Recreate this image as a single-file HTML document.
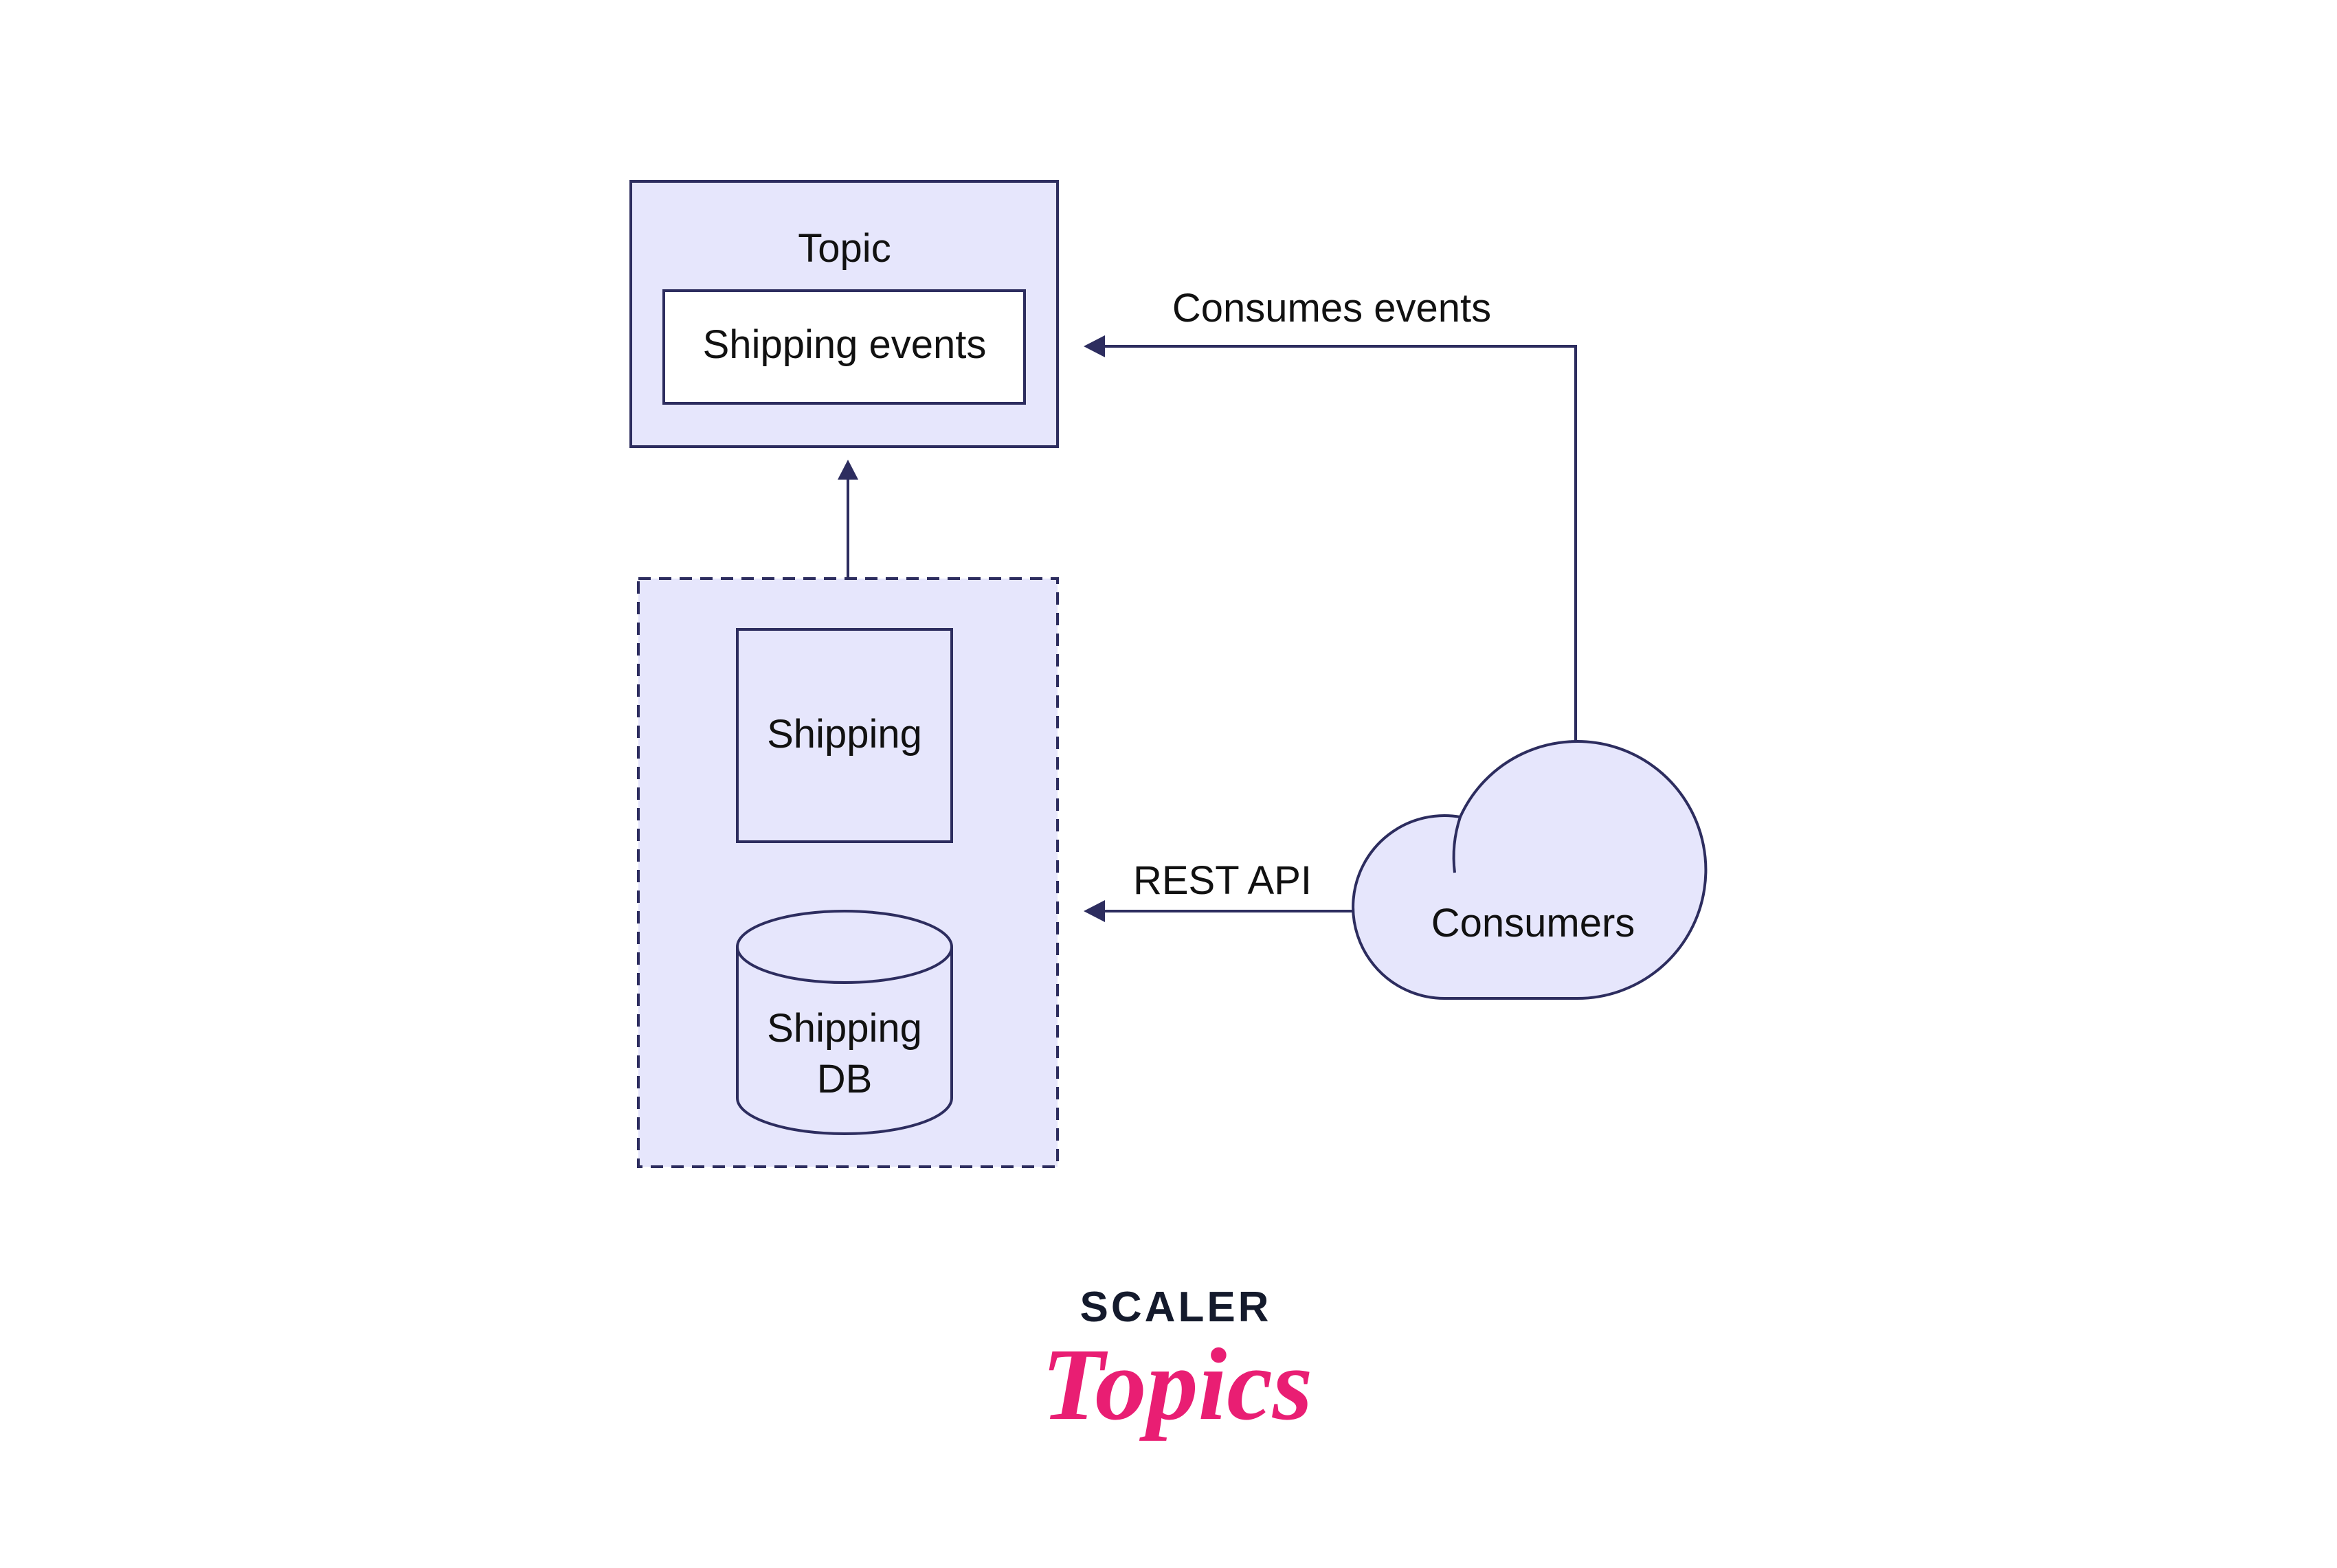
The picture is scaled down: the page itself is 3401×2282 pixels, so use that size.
<!DOCTYPE html>
<html><head><meta charset="utf-8"><style>
html,body{margin:0;padding:0;background:#fff;}
svg{display:block}
text{font-family:"Liberation Sans",sans-serif;fill:#111;}
</style></head><body>
<svg width="3401" height="2282" viewBox="0 0 3401 2282" xmlns="http://www.w3.org/2000/svg">
<g transform="translate(-4,-2)">
<g stroke="#2d2d5f" stroke-width="4" fill="#e6e6fc">
<rect x="922" y="266" width="621" height="386"/>
<rect x="970" y="425" width="525" height="164" fill="#fff"/>
<rect x="933" y="844" width="610" height="856" stroke-dasharray="18,12"/>
<rect x="1077" y="918" width="312" height="309"/>
<path d="M1077 1380 L1077 1600 A156 52 0 0 0 1389 1600 L1389 1380"/>
<ellipse cx="1233" cy="1380" rx="156" ry="52"/>
</g>
<!-- cloud -->
<g fill="#e6e6fc" stroke="#2d2d5f" stroke-width="4">
<path d="M2108 1455 A133 133 0 1 1 2129 1191 A187 187 0 1 1 2297 1455 Z"/>
<path d="M2129 1191 A187 187 0 0 0 2121 1272" fill="none"/>
</g>
<!-- connectors -->
<g stroke="#2d2d5f" stroke-width="4" fill="none">
<path d="M1238 844 L1238 700"/>
<path d="M2297 1081 L2297 506 L1610 506"/>
<path d="M1975 1328 L1610 1328"/>
</g>
<g fill="#2d2d5f">
<polygon points="1238,671 1223,700 1253,700"/>
<polygon points="1581,506 1612,490 1612,522"/>
<polygon points="1581,1328 1612,1312 1612,1344"/>
</g>
<g font-size="58" text-anchor="middle">
<text x="1233" y="383">Topic</text>
<text x="1233" y="523">Shipping events</text>
<text x="1233" y="1090">Shipping</text>
<text x="1233" y="1518">Shipping</text>
<text x="1233" y="1592">DB</text>
<text x="1942" y="470">Consumes events</text>
<text x="1783" y="1303">REST API</text>
<text x="2235" y="1365">Consumers</text>
</g>
</g>
<text x="1711" y="1923" font-size="62" font-weight="bold" text-anchor="middle" letter-spacing="4" style="fill:#141a2c">SCALER</text>
<text x="1713" y="2065" font-size="150" font-style="italic" font-weight="bold" text-anchor="middle" style="fill:#e91e73;font-family:'Liberation Serif',serif">Topics</text>
</svg>
</body></html>
